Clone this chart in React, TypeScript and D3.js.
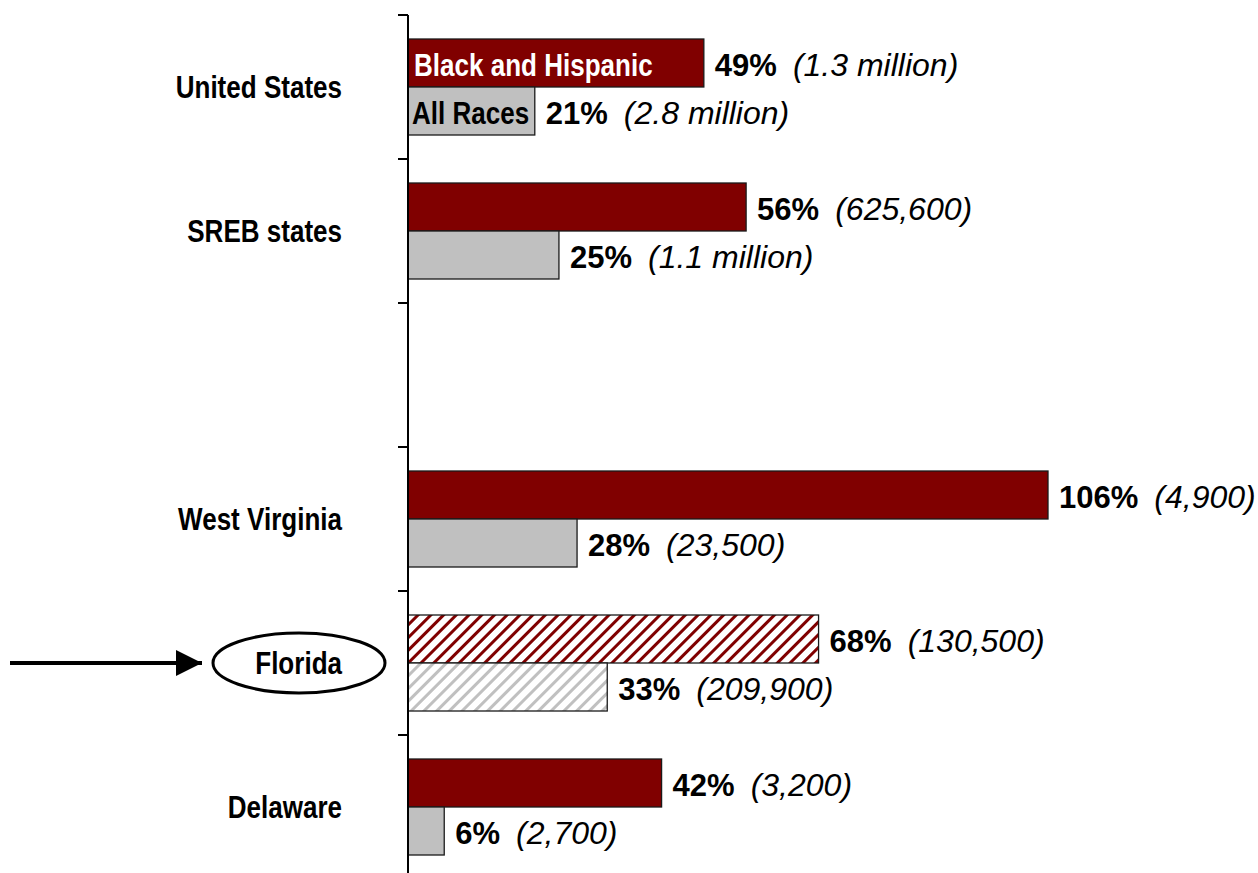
import React from "react";
import * as d3 from "d3";

const categories = ["United States", "SREB states", "", "West Virginia", "Florida", "Delaware"];
const blackHispanicPct = [49, 56, null, 106, 68, 42];
const blackHispanicCount = ["1.3 million", "625,600", null, "4,900", "130,500", "3,200"];
const allRacesPct = [21, 25, null, 28, 33, 6];
const allRacesCount = ["2.8 million", "1.1 million", null, "23,500", "209,900", "2,700"];
const seriesNames = ["Black and Hispanic", "All Races"];
const highlighted = "Florida";

const W = 1258;
const H = 873;
const RED = "#800000";
const GRAY = "#c0c0c0";
const SANS = "'Liberation Sans', Arial, sans-serif";
const NARROW_SCALE = 0.84;

function NarrowText(props: { x: number; y: number; anchor?: string; fill: string; children: React.ReactNode }) {
  return (
    <text
      transform={`translate(${props.x},${props.y}) scale(${NARROW_SCALE},1)`}
      textAnchor={props.anchor ?? "start"}
      fontSize={31}
      fontWeight="bold"
      fontFamily={SANS}
      fill={props.fill}
    >
      {props.children}
    </text>
  );
}

export default function App() {
  const x = d3.scaleLinear().domain([0, 106]).range([408, 1048]);
  const y = d3
    .scaleBand<string>()
    .domain(categories)
    .range([15, 879])
    .paddingInner(1 / 3)
    .paddingOuter(1 / 6);
  const sub = d3.scaleBand<string>().domain(seriesNames).range([0, y.bandwidth()]);
  const step = y.step();
  const tickYs = d3.range(categories.length).map((i) => 15 + i * step);

  const rows = categories.map((c, i) => ({
    cat: c,
    vals: [
      { s: seriesNames[0], pct: blackHispanicPct[i], count: blackHispanicCount[i] },
      { s: seriesNames[1], pct: allRacesPct[i], count: allRacesCount[i] },
    ],
  }));

  const flY = (y(highlighted) ?? 0) + y.bandwidth() / 2;

  return (
    <svg width={W} height={H} style={{ position: "absolute", left: 0, top: 0, background: "#fff" }}>
      <defs>
        <pattern id="hatchRed" patternUnits="userSpaceOnUse" width="9" height="9" patternTransform="rotate(45)">
          <rect width="9" height="9" fill="#fff" />
          <rect width="3" height="9" fill={RED} />
        </pattern>
        <pattern id="hatchGray" patternUnits="userSpaceOnUse" width="9" height="9" patternTransform="rotate(45)">
          <rect width="9" height="9" fill="#fff" />
          <rect width="3" height="9" fill={GRAY} />
        </pattern>
        <marker id="arrowHead" viewBox="0 0 10 10" refX="10" refY="5" markerWidth="6.5" markerHeight="6.5" orient="auto" markerUnits="strokeWidth">
          <path d="M0,0 L10,5 L0,10 Z" fill="#000" />
        </marker>
      </defs>

      {rows.map((r) =>
        r.vals.map((v, j) => {
          if (v.pct == null) return null;
          const y0 = (y(r.cat) ?? 0) + (sub(v.s) ?? 0);
          const h = sub.bandwidth();
          const isHi = r.cat === highlighted;
          const fill = isHi ? (j === 0 ? "url(#hatchRed)" : "url(#hatchGray)") : j === 0 ? RED : GRAY;
          const x1 = x(v.pct);
          return (
            <g key={r.cat + v.s}>
              <rect x={x(0)} y={y0} width={x1 - x(0)} height={h} fill={fill} stroke="#1a1a1a" strokeWidth={1.3} />
              <text x={x1 + 11} y={y0 + h / 2 + 13} fontFamily={SANS} fill="#000">
                <tspan fontWeight="bold" fontSize={31}>{v.pct}%</tspan>
                <tspan dx={16} fontStyle="italic" fontSize={32}>({v.count})</tspan>
              </text>
            </g>
          );
        })
      )}

      {/* in-bar series labels */}
      <NarrowText
        x={x(0) + 6}
        y={(y(categories[0]) ?? 0) + (sub(seriesNames[0]) ?? 0) + sub.bandwidth() / 2 + 13}
        fill="#fff"
      >
        {seriesNames[0]}
      </NarrowText>
      <NarrowText
        x={x(0) + 4}
        y={(y(categories[0]) ?? 0) + (sub(seriesNames[1]) ?? 0) + sub.bandwidth() / 2 + 13}
        fill="#000"
      >
        {seriesNames[1]}
      </NarrowText>

      {/* axis */}
      <line x1={x(0)} x2={x(0)} y1={15} y2={H} stroke="#000" strokeWidth={2} />
      {tickYs.map((t) => (
        <line key={t} x1={x(0) - 10} x2={x(0)} y1={t} y2={t} stroke="#000" strokeWidth={2} />
      ))}

      {/* category labels */}
      {categories.map((c) =>
        c ? (
          <NarrowText key={c} x={342} y={(y(c) ?? 0) + y.bandwidth() / 2 + 11} anchor="end" fill="#000">
            {c}
          </NarrowText>
        ) : null
      )}

      {/* highlight ellipse and arrow */}
      <ellipse cx={299} cy={flY} rx={86} ry={30} fill="none" stroke="#000" strokeWidth={3} />
      <line x1={10} x2={202} y1={flY} y2={flY} stroke="#000" strokeWidth={4} markerEnd="url(#arrowHead)" />
    </svg>
  );
}
